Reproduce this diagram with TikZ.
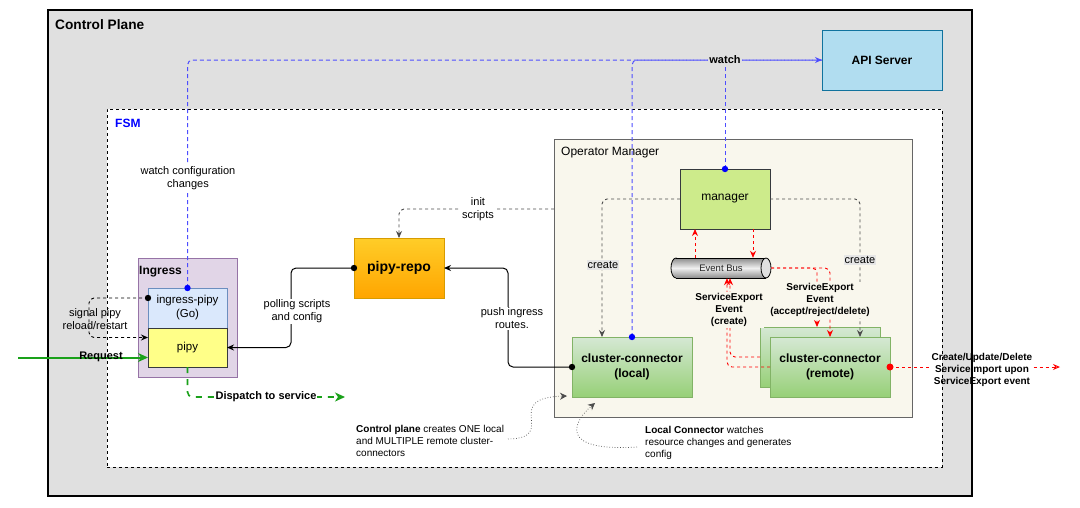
\documentclass[tikz,border=0pt]{standalone}
\usepackage{fontspec}
\setmainfont{Liberation Sans}
\usetikzlibrary{arrows.meta,shapes.geometric,calc}

\definecolor{cpgray}{HTML}{E0E0E0}
\definecolor{apifill}{HTML}{B1DDF0}
\definecolor{apidraw}{HTML}{10739E}
\definecolor{opmfill}{HTML}{F9F7ED}
\definecolor{opmdraw}{HTML}{666666}
\definecolor{mgrfill}{HTML}{CDEB8B}
\definecolor{mgrdraw}{HTML}{36393D}
\definecolor{grtop}{HTML}{D5E8D4}
\definecolor{grbot}{HTML}{97D077}
\definecolor{grdraw}{HTML}{82B366}
\definecolor{ortop}{HTML}{FFCD28}
\definecolor{orbot}{HTML}{FFA500}
\definecolor{ordraw}{HTML}{D79B00}
\definecolor{ingfill}{HTML}{E1D5E7}
\definecolor{ingdraw}{HTML}{9673A6}
\definecolor{ipfill}{HTML}{DAE8FC}
\definecolor{ipdraw}{HTML}{6C8EBF}
\definecolor{pipyfill}{HTML}{FFFF88}
\definecolor{watchblue}{HTML}{4D4DFF}
\definecolor{reqgreen}{HTML}{1AA11A}
\definecolor{fsmblue}{HTML}{0000FF}
\definecolor{createbg}{HTML}{E6E6E6}
\definecolor{lnGray}{HTML}{4D4D4D}
\definecolor{busdark}{HTML}{8C8C8C}
\definecolor{buslight}{HTML}{F0F0F0}

\tikzset{
  bx/.style={draw, rectangle, inner sep=0pt, outer sep=0pt, align=center, line width=0.8pt},
  cont/.style={draw, rectangle, inner sep=0pt, outer sep=0pt, anchor=north west},
  lbl/.style={font=\fontsize{11}{13}\selectfont, align=center, inner sep=1pt},
  blbl/.style={font=\bfseries\fontsize{10}{12}\selectfont, align=center, inner sep=1pt},
  note/.style={font=\fontsize{10}{12}\selectfont, align=left, inner sep=0pt, anchor=west},
  watchln/.style={draw=watchblue, line width=1pt, dash pattern=on 4pt off 3pt, rounded corners=5pt},
  grayln/.style={draw=lnGray, line width=0.9pt, dash pattern=on 3pt off 3pt, rounded corners=5pt},
  redln/.style={draw=red, line width=0.9pt, dash pattern=on 3pt off 3pt, rounded corners=5pt},
  solidln/.style={draw=black, line width=1pt, rounded corners=5pt},
  greenln/.style={draw=reqgreen, line width=2pt, rounded corners=5pt},
  tip/.style={-{Stealth[length=7pt,width=6pt]}},
  gtip/.style={-{Stealth[length=10pt,width=9pt,inset=3pt,reqgreen]}},
  ntip/.style={-{Stealth[length=7pt,width=7pt]}},
  notepath/.style={draw=black!70, line width=0.7pt, dotted},
}

\begin{document}
\begin{tikzpicture}[x=1pt,y=-1pt]
\useasboundingbox[fill=white] (0,0) rectangle (1080,507);

% containers
\node[cont, fill=cpgray, line width=1.2pt, minimum width=924pt, minimum height=486pt] (cp) at (48,10) {};
\node[anchor=west, font=\bfseries\fontsize{13.7}{16}\selectfont, inner sep=0pt] (cptitle) at (55,25) {Control Plane};
\node[cont, fill=white, line width=0.8pt, dash pattern=on 3pt off 3pt, minimum width=835pt, minimum height=358pt] (fsm) at (107,109) {};
\node[anchor=west, font=\bfseries\fontsize{12}{14}\selectfont, text=fsmblue, inner sep=0pt] (fsmtitle) at (115,123) {FSM};
\node[bx, fill=apifill, draw=apidraw, minimum width=120pt, minimum height=60pt, font=\bfseries\fontsize{12}{14}\selectfont] (api) at (882,60) {API Server};
\node[cont, fill=opmfill, draw=opmdraw, line width=0.9pt, minimum width=358pt, minimum height=278pt] (opm) at (554,139) {};
\node[anchor=west, font=\fontsize{12}{14}\selectfont, inner sep=0pt] (opmtitle) at (561,153) {Operator Manager};
\node[cont, fill=ingfill, draw=ingdraw, line width=0.8pt, minimum width=99pt, minimum height=119pt] (ingress) at (138,258) {};
\node[anchor=west, font=\bfseries\fontsize{12}{14}\selectfont, inner sep=0pt] (ingtitle) at (139,272) {Ingress};

% inner nodes
\node[bx, fill=ipfill, draw=ipdraw, minimum width=79pt, minimum height=40pt, font=\fontsize{11.5}{14}\selectfont] (ingpipy) at (187.5,308) {ingress-pipy\\(Go)};
\node[bx, fill=pipyfill, draw=mgrdraw, minimum width=79pt, minimum height=39pt, font=\fontsize{11.5}{14}\selectfont] (pipy) at (187.5,347.5) {pipy};
\node[bx, top color=ortop, bottom color=orbot, draw=ordraw, minimum width=90pt, minimum height=60pt, font=\bfseries\fontsize{14}{16}\selectfont] (repo) at (399,268) {pipy-repo};
\node[bx, fill=mgrfill, draw=mgrdraw, minimum width=90pt, minimum height=60pt, font=\fontsize{12}{14}\selectfont] (mgr) at (725,199) {manager};
\node[bx, top color=grtop, bottom color=grbot, draw=grdraw, minimum width=120pt, minimum height=60pt, font=\bfseries\fontsize{12}{15}\selectfont] (local) at (632,367) {cluster-connector\\(local)};
\node[bx, top color=grtop, bottom color=grbot, draw=grdraw, minimum width=120pt, minimum height=60pt] (remB) at (820,357) {};
\node[bx, top color=grtop, bottom color=grbot, draw=grdraw, minimum width=120pt, minimum height=60pt, font=\bfseries\fontsize{12}{15}\selectfont] (remF) at (830,367) {cluster-connector\\(remote)};

% event bus cylinder
\shade[top color=busdark, bottom color=busdark, middle color=buslight] (676,268) ellipse (5pt and 10pt);
\draw[line width=0.8pt] (676,268) ellipse (5pt and 10pt);
\shade[top color=busdark, bottom color=busdark, middle color=buslight] (676,258) rectangle (766,278);
\draw[line width=0.8pt] (676,258) -- (766,258) (676,278) -- (766,278);
\filldraw[fill=black!12, line width=0.8pt] (766,268) ellipse (5pt and 10pt);
\node[inner sep=0pt, minimum width=100pt, minimum height=20pt, font=\fontsize{9.5}{11}\selectfont, text=black!85] (bus) at (721,268) {Event Bus};

% coordinates for free ends
\coordinate (reqsrc) at (18,357.5);
\coordinate (dispend) at (345,397);
\coordinate (initsrc) at (554,209);
\coordinate (impend) at (1060,367);
\coordinate (n1src) at (508,439);
\coordinate (n1dst) at (567,396);
\coordinate (n2src) at (637,447);
\coordinate (n2dst) at (595,403);

% label placed first where lines must stop at it
\node[blbl] (limp) at (982,370) {Create/Update/Delete\\ServiceImport upon\\ServiceExport event};

% watch lines
\draw[watchln, -{Stealth[open,length=7pt,width=6pt]}] (ingpipy.north) |- (api.west);
\draw[watchln] (local.north) |- (api.west);
\draw[watchln] (mgr.north) -- (mgr.north |- api.west);
\fill[blue] (ingpipy.north) circle (3.2pt);
\fill[blue] (local.north) circle (3.2pt);
\fill[blue] (mgr.north) circle (3.2pt);

% create lines
\draw[grayln, tip] (mgr.west) -| ([xshift=-30pt]local.north);
\draw[grayln, tip] (mgr.east) -| ([xshift=30pt]remF.north);
% init scripts
\draw[grayln, tip] (initsrc) -| (repo.north);
% push ingress routes
\draw[solidln, tip] (local.west) -- ++(-64,0) |- (repo.east);
\fill (local.west) circle (3.2pt);
% polling
\draw[solidln, tip] (repo.west) -- ++(-63,0) |- (pipy.east);
\fill (repo.west) circle (3.2pt);
% signal
\draw[grayln, draw=black, tip] ([yshift=10pt]ingpipy.west) -- ++(-59,0) |- ([yshift=10pt]pipy.west);
\fill ([yshift=10pt]ingpipy.west) circle (3.2pt);
% request
\draw[greenln, gtip] (reqsrc) -- ([yshift=-10pt]pipy.west);
% dispatch
\draw[greenln, line width=1.6pt, dash pattern=on 6pt off 6pt, gtip] (pipy.south) |- (dispend);

% red event lines
\draw[redln, tip] ([xshift=-26pt]bus.north) -- ([xshift=-30pt]mgr.south);
\draw[redln, tip] ([xshift=28pt]mgr.south) -- ([xshift=32pt]bus.north);
\draw[redln, tip] (remB.west) -| ([xshift=9pt]bus.south);
\draw[redln, tip] (remF.west) -| ([xshift=6pt]bus.south);
\draw[redln, tip] (bus.east) -| ([xshift=-3pt]remB.north);
\draw[redln, tip] (bus.east) -| (remF.north);
\draw[redln] (remF.east) -- (remF.east -| limp.west);
\draw[redln, -{Stealth[open,length=7pt,width=6pt]}] (remF.east -| limp.east) -- (impend);
\fill[red] (remF.east) circle (3.5pt);

% note connectors
\draw[notepath, ntip] (n1src) .. controls (560,438) and (500,398) .. (n1dst);
\draw[notepath, ntip] (n2src) .. controls (555,452) and (575,420) .. (n2dst);

% labels
\node[lbl, fill=white] (lwcc) at (188,178) {watch configuration\\changes};
\node[lbl, fill=cpgray, font=\bfseries\fontsize{11}{13}\selectfont] (lwatch) at (725,60) {watch};
\node[lbl, fill=white] (linit) at (478,209.5) {init\\scripts};
\node[lbl, fill=white] (lpoll) at (297,311.5) {polling scripts\\and config};
\node[lbl, fill=white] (lpush) at (512,318.5) {push ingress\\routes.};
\node[lbl] (lsignal) at (95,319) {signal pipy\\reload/restart};
\node[lbl, font=\bfseries\fontsize{11}{13}\selectfont] (lreq) at (101,357) {Request};
\node[lbl, fill=white, font=\bfseries\fontsize{11}{13}\selectfont] (ldisp) at (266,397) {Dispatch to service};
\node[lbl, fill=createbg] (lcreate1) at (603,265) {create};
\node[lbl, fill=createbg] (lcreate2) at (860,260) {create};
\node[blbl, fill=opmfill] (lsec) at (729,310) {ServiceExport\\Event\\(create)};
\node[blbl, fill=opmfill] (lsea) at (820,300) {ServiceExport\\Event\\(accept/reject/delete)};
\node[note] (note1) at (356,441) {\textbf{Control plane} creates ONE local\\and MULTIPLE remote cluster-\\connectors};
\node[note] (note2) at (645,443) {\textbf{Local Connector} watches\\resource changes and generates\\config};
\end{tikzpicture}
\end{document}
